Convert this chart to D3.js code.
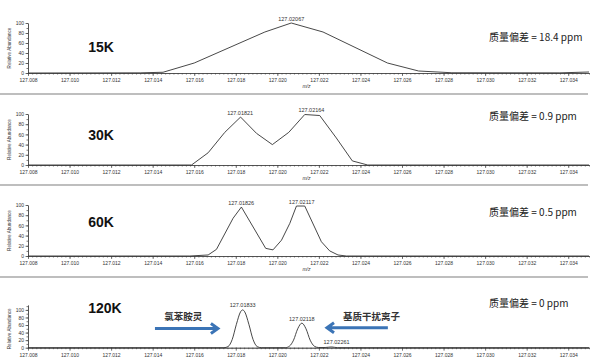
<!DOCTYPE html>
<meta charset="utf-8">
<style>
body { margin: 0; background: #fff; }
svg { font-family: "Liberation Sans", Arial, sans-serif; }
.axis path, .axis line { stroke: #444; stroke-width: 0.7px; }
.axis text { fill: #333; font-size: 5px; }
.trace { fill: none; stroke: #333; stroke-width: 0.9px; }
.peak { fill: #333; font-size: 5.5px; text-anchor: middle; }
.res { font-size: 14px; font-weight: bold; fill: #111; }
.ppm { font-size: 10px; fill: #222; font-family: "Noto Sans CJK SC", "Liberation Sans", sans-serif; }
.note { font-size: 9.5px; font-weight: bold; fill: #333; font-family: "Noto Sans CJK SC", sans-serif; }
.arrow { fill: none; stroke: #3b74b6; stroke-width: 3px; }
</style>
<body>
<script src="https://d3js.org/d3.v7.min.js"></script>
<script>

var width = 591,
    height = 361;

// tick labels
var xTicks = [127.008, 127.010, 127.012, 127.014, 127.016, 127.018, 127.020,
              127.022, 127.024, 127.026, 127.028, 127.030, 127.032, 127.034];
var yTicks = [0, 20, 40, 60, 80, 100];

// 15K
var mz15 = [127.008, 127.0134, 127.0145, 127.0160, 127.0194, 127.02067, 127.0222,
            127.0253, 127.0268, 127.0284, 127.0336, 127.0350];
var ab15 = [0, 0.3, 1.5, 20, 82, 100, 82, 20, 4, 0.5, 0.3, 2];
var pk15 = [127.02067], pkAb15 = [100];

// 30K
var mz30 = [127.008, 127.01587, 127.01667, 127.01747, 127.01823, 127.01900, 127.01976,
            127.02055, 127.02132, 127.02204, 127.02284, 127.02361, 127.02435, 127.035];
var ab30 = [0, 0, 24, 64, 94, 62, 40, 64, 99, 97, 53, 8, 0, 0];
var pk30 = [127.01821, 127.02164], pkAb30 = [94, 99];

// 60K
var mz60 = [127.008, 127.01579, 127.01667, 127.01707, 127.01787, 127.01827, 127.01944,
            127.01979, 127.02020, 127.02060, 127.02092, 127.02132, 127.02212, 127.02252,
            127.02292, 127.02332, 127.035];
var ab60 = [0, 0, 2, 13, 74, 96, 15, 12, 31, 64, 98, 98, 28, 10, 2, 0, 0];
var pk60 = [127.01826, 127.02117], pkAb60 = [96, 98];

// 120K
var mz120 = [127.008, 127.01743, 127.01763, 127.01783, 127.01803, 127.01823, 127.01833,
             127.01843, 127.01863, 127.01883, 127.01903, 127.01923, 127.02038, 127.02058,
             127.02078, 127.02098, 127.02118, 127.02138, 127.02158, 127.02178, 127.02198,
             127.02230, 127.02261, 127.02290, 127.035];
var ab120 = [0, 0, 3, 22, 62, 95, 100, 95, 62, 22, 3, 0, 0, 4, 20, 50, 65, 50, 20, 4,
             0.5, 0.5, 2, 0, 0];
var pk120 = [127.01833, 127.02118, 127.02261], pkAb120 = [100, 65, 2];

var resLabels = ["15K", "30K", "60K", "120K"];
var ppmLabels = ["质量偏差 = 18.4 ppm", "质量偏差 = 0.9 ppm", "质量偏差 = 0.5 ppm", "质量偏差 = 0 ppm"];

// layout of the four stacked panels
var panels = [
  {mz: mz15, ab: ab15, pk: pk15, pkAb: pkAb15, y0: 73, y100: 23, top: 100, resY: 52, ppmY: 41, curve: d3.curveLinear},
  {mz: mz30, ab: ab30, pk: pk30, pkAb: pkAb30, y0: 165, y100: 114, top: 100, resY: 140, ppmY: 120, curve: d3.curveLinear},
  {mz: mz60, ab: ab60, pk: pk60, pkAb: pkAb60, y0: 256, y100: 205, top: 100, resY: 227, ppmY: 216, curve: d3.curveLinear},
  {mz: mz120, ab: ab120, pk: pk120, pkAb: pkAb120, y0: 347.7, y100: 305, top: 113, resY: 313, ppmY: 307, curve: d3.curveMonotoneX}
];
var separators = [94, 185, 277];

var svg = d3.select("body").append("svg")
    .attr("width", width)
    .attr("height", height);

var x = d3.scaleLinear()
    .domain([127.008, 127.035])
    .range([28, 589]);

var minorX = d3.range(0, 136).map(function(i) { return 127.008 + i * 0.0002; });

svg.selectAll(".sep")
    .data(separators)
    .enter().append("line")
    .attr("class", "sep")
    .attr("x1", 0).attr("x2", 588)
    .attr("y1", function(d) { return d; })
    .attr("y2", function(d) { return d; })
    .style("stroke", "#a8a8a8")
    .style("stroke-width", 1.6);

panels.forEach(function(p, i) {
  var y = d3.scaleLinear()
      .domain([0, 100])
      .range([p.y0, p.y100]);
  y.domain([0, p.top]).range([p.y0, y(p.top)]);

  var g = svg.append("g");

  // x axis: minor then major
  g.append("g")
      .attr("class", "axis")
      .attr("transform", "translate(0," + p.y0 + ")")
      .call(d3.axisBottom(x).tickValues(minorX).tickSize(1.5).tickSizeOuter(0).tickFormat(""));
  g.append("g")
      .attr("class", "axis")
      .attr("transform", "translate(0," + p.y0 + ")")
      .call(d3.axisBottom(x).tickValues(xTicks).tickSize(3).tickSizeOuter(0)
            .tickPadding(2.5).tickFormat(d3.format(".3f")));

  // y axis
  g.append("g")
      .attr("class", "axis")
      .attr("transform", "translate(" + x.range()[0] + ",0)")
      .call(d3.axisLeft(y).tickValues(d3.range(0, 111, 10).filter(function(v) { return v <= p.top; }))
            .tickSize(1.5).tickSizeOuter(0).tickFormat(""));
  g.append("g")
      .attr("class", "axis")
      .attr("transform", "translate(" + x.range()[0] + ",0)")
      .call(d3.axisLeft(y).tickValues(yTicks).tickSize(2.5).tickSizeOuter(0).tickPadding(1.5));

  g.append("text")
      .attr("transform", "translate(11," + y(50) + ") rotate(-90)")
      .attr("text-anchor", "middle")
      .style("font-size", "4.6px")
      .style("fill", "#333")
      .text("Relative Abundance");

  // the last panel's m/z label falls below the picture
  if (i < 3) {
    g.append("text")
        .attr("x", x(127.0214))
        .attr("y", p.y0 + 15)
        .attr("text-anchor", "middle")
        .style("font-size", "5px")
        .style("font-style", "italic")
        .style("fill", "#333")
        .text("m/z");
  }

  var line = d3.line()
      .x(function(d) { return x(d[0]); })
      .y(function(d) { return y(d[1]); })
      .curve(p.curve);

  g.append("path")
      .attr("class", "trace")
      .attr("d", line(d3.zip(p.mz, p.ab)));

  g.selectAll(".peak")
      .data(d3.zip(p.pk, p.pkAb))
      .enter().append("text")
      .attr("class", "peak")
      .attr("x", function(d) { return x(d[0]) + (d[1] < 10 ? 5 : 0); })
      .attr("y", function(d) { return y(d[1]) - 2.5; })
      .text(function(d) { return d[0].toFixed(5); });

  g.append("text")
      .attr("class", "res")
      .attr("x", x(127.0109))
      .attr("y", p.resY)
      .text(resLabels[i]);

  g.append("text")
      .attr("class", "ppm")
      .attr("x", x(127.03019))
      .attr("y", p.ppmY)
      .text(ppmLabels[i]);

  if (i === 3) {
    g.append("text")
        .attr("class", "note")
        .attr("x", x(127.01456))
        .attr("y", y(72))
        .text("氯苯胺灵");
    g.append("text")
        .attr("class", "note")
        .attr("x", x(127.02316))
        .attr("y", y(74))
        .text("基质干扰离子");

    var ya = y(51);
    g.append("path")
        .attr("class", "arrow")
        .attr("d", "M" + x(127.01411) + "," + ya + "H" + (x(127.01714) - 1) +
                   "M" + (x(127.01714) - 7) + "," + (ya - 5) + "L" + x(127.01714) + "," + ya +
                   "L" + (x(127.01714) - 7) + "," + (ya + 5));
    var yb = y(53);
    g.append("path")
        .attr("class", "arrow")
        .attr("d", "M" + x(127.02532) + "," + yb + "H" + (x(127.02239) + 1) +
                   "M" + (x(127.02239) + 7) + "," + (yb - 5) + "L" + x(127.02239) + "," + yb +
                   "L" + (x(127.02239) + 7) + "," + (yb + 5));
  }
});

</script>
